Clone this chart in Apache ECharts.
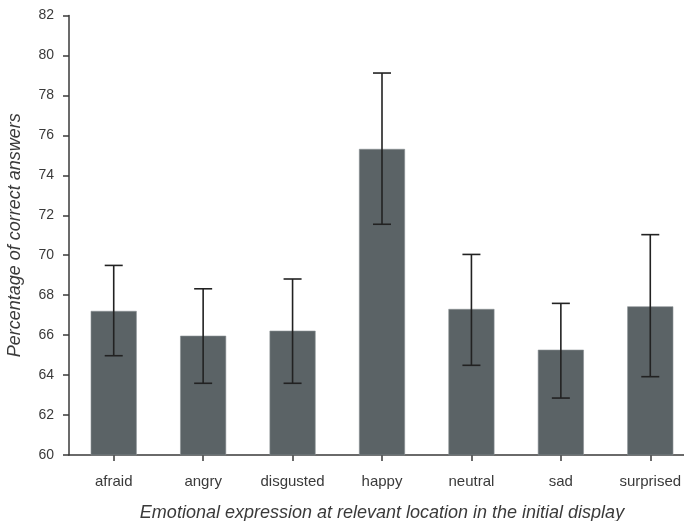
<!DOCTYPE html>
<html>
<head>
<meta charset="utf-8">
<script src="https://cdn.jsdelivr.net/npm/echarts@6/dist/echarts.min.js"></script>
<style>html,body{margin:0;padding:0;background:#fff}#c{width:684px;height:521px}</style>
</head>
<body>
<div id="c"></div>
<script>
const categories = ['afraid', 'angry', 'disgusted', 'happy', 'neutral', 'sad', 'surprised'];
const means = [67.21, 65.97, 66.22, 75.32, 67.31, 65.27, 67.44];
const errLow = [64.97, 63.59, 63.59, 71.55, 64.49, 62.85, 63.92];
const errHigh = [69.49, 68.32, 68.81, 79.12, 70.04, 67.59, 71.03];
const yTicks = [60, 62, 64, 66, 68, 70, 72, 74, 76, 78, 80, 82];

const chart = echarts.init(document.getElementById('c'), null, {renderer: 'canvas'});
const textColor = '#3a3a3a';
const axisColor = '#3a3a3a';
const font = 'Liberation Sans, Arial, sans-serif';
chart.setOption({
  animation: false,
  backgroundColor: '#fff',
  grid: {left: 69, right: -11, top: 15.5, bottom: 66, containLabel: false, outerBoundsMode: 'none'},
  xAxis: {
    type: 'category',
    data: categories,
    boundaryGap: true,
    splitLine: {show: false},
    axisLine: {show: true, onZero: false, lineStyle: {color: axisColor, width: 1.5}},
    axisTick: {show: true, alignWithLabel: true, length: 6, lineStyle: {color: axisColor, width: 1.5}},
    axisLabel: {margin: 19, fontFamily: font, fontSize: 15, color: textColor},
    name: 'Emotional expression at relevant location in the initial display',
    nameLocation: 'middle',
    nameGap: 49,
    nameTextStyle: {fontFamily: font, fontSize: 18, fontStyle: 'italic', color: textColor}
  },
  yAxis: {
    type: 'value',
    min: yTicks[0],
    max: yTicks[yTicks.length - 1],
    interval: 2,
    splitLine: {show: false},
    axisLine: {show: true, onZero: false, lineStyle: {color: axisColor, width: 1.5}},
    axisTick: {show: true, length: 6, lineStyle: {color: axisColor, width: 1.5}},
    axisLabel: {margin: 15, fontFamily: font, fontSize: 14, color: textColor},
    name: 'Percentage of correct answers',
    nameLocation: 'middle',
    nameGap: 45,
    nameTextStyle: {fontFamily: font, fontSize: 18, fontStyle: 'italic', color: textColor}
  },
  series: [
    {
      type: 'bar',
      data: means,
      barWidth: 46,
      itemStyle: {color: '#5b6366', borderColor: '#8a9193', borderWidth: 0.6},
      clip: true
    },
    {
      type: 'custom',
      data: categories.map((c, i) => [i, errLow[i], errHigh[i]]),
      encode: {x: 0, y: [1, 2]},
      z: 10,
      renderItem: function (params, api) {
        const x = api.value(0);
        const lo = api.coord([x, api.value(1)]);
        const hi = api.coord([x, api.value(2)]);
        const hw = 9;
        const style = {stroke: '#222', lineWidth: 1.6};
        return {
          type: 'group',
          children: [
            {type: 'line', shape: {x1: lo[0], y1: lo[1], x2: hi[0], y2: hi[1]}, style: style},
            {type: 'line', shape: {x1: hi[0] - hw, y1: hi[1], x2: hi[0] + hw, y2: hi[1]}, style: style},
            {type: 'line', shape: {x1: lo[0] - hw, y1: lo[1], x2: lo[0] + hw, y2: lo[1]}, style: style}
          ]
        };
      }
    }
  ]
});
</script>
</body>
</html>
